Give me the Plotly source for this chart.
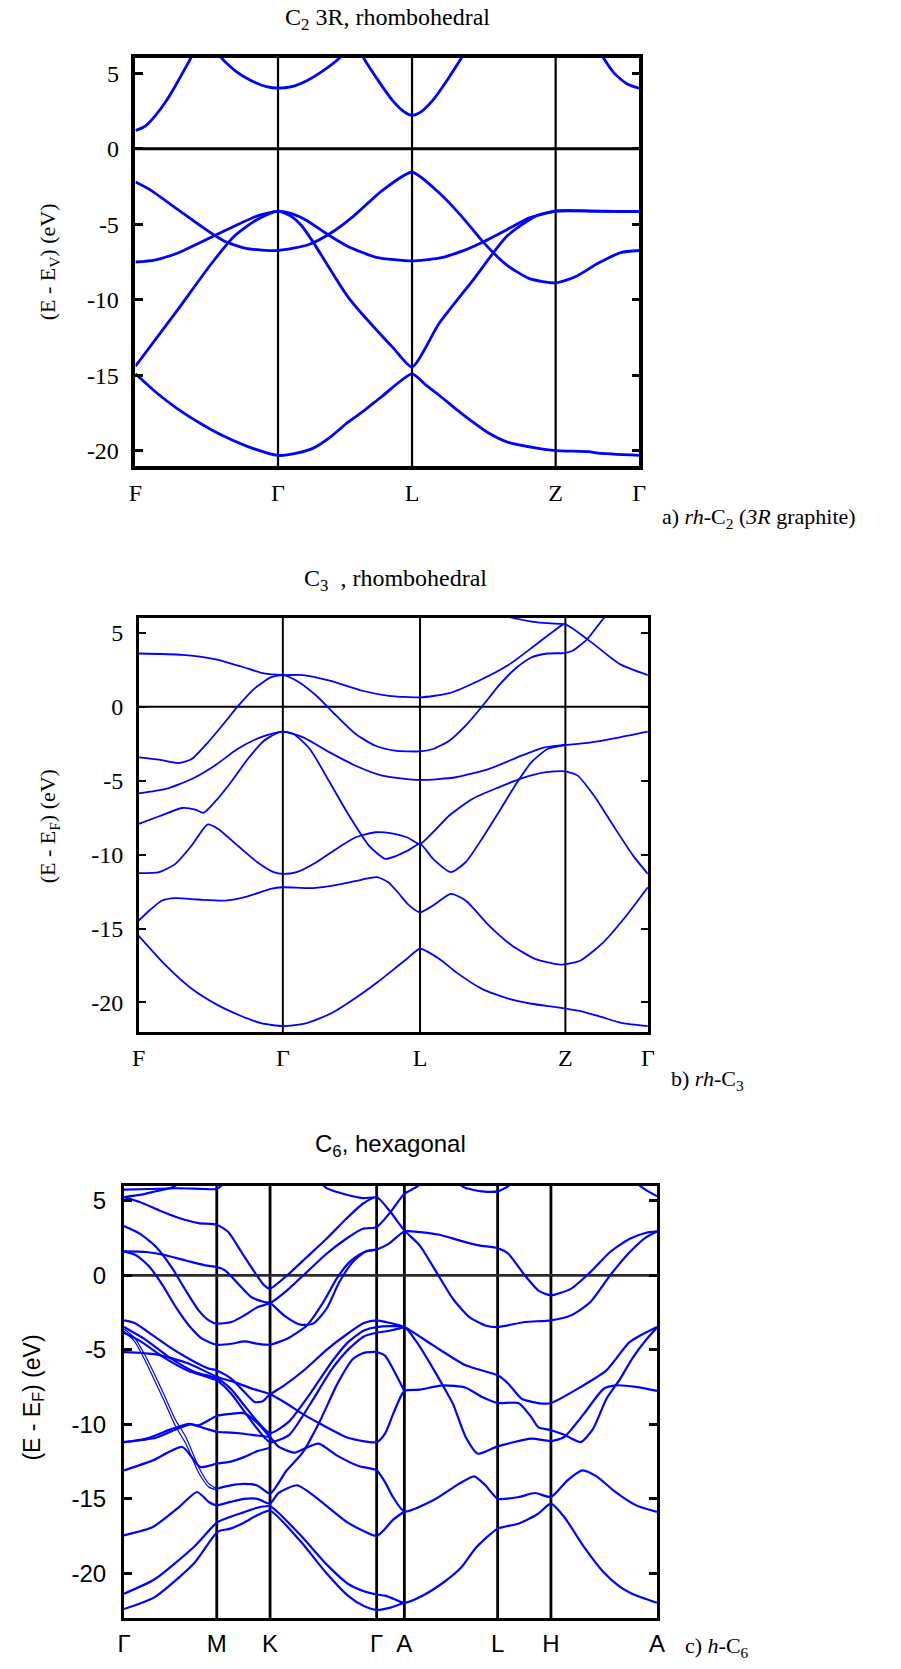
import plotly.graph_objects as go

# ---------------- DATA ----------------
# (a) rh-C2 : k-path fraction, energy (eV)
C2_KPOS = [0.0, 0.283, 0.549, 0.834, 1.0]
C2_KLAB = ['F', 'Γ', 'L', 'Z', 'Γ']
C2_YTICKS = [5, 0, -5, -10, -15, -20]
C2_BANDS = [
    [(0, 1.2), (0.02, 1.5), (0.04, 2.2), (0.06, 3.1), (0.08, 4.2), (0.1, 5.4), (0.12, 6.6)],
    [(0.155, 7.0), (0.171, 6.0), (0.2, 5.1), (0.23, 4.5), (0.26, 4.1), (0.283, 4.0), (0.31, 4.1), (0.34, 4.5),
     (0.37, 5.1), (0.405, 6.0), (0.42, 6.6)],
    [(0.44, 6.8), (0.453, 6.0), (0.48, 4.6), (0.51, 3.2), (0.535, 2.4), (0.549, 2.2), (0.565, 2.4), (0.59, 3.2),
     (0.62, 4.6), (0.647, 6.0), (0.66, 6.7)],
    [(0.915, 6.8), (0.929, 6.0), (0.95, 5.0), (0.975, 4.3), (1.0, 4.0)],
    [(0, -2.2), (0.027, -2.68), (0.083, -4.0), (0.129, -5.1), (0.174, -6.07), (0.219, -6.6), (0.283, -6.74),
     (0.343, -6.36), (0.388, -5.58), (0.433, -4.46), (0.489, -2.79), (0.549, -1.56), (0.602, -2.9), (0.647, -4.46),
     (0.692, -6.25), (0.737, -7.7), (0.782, -8.6), (0.834, -8.88), (0.873, -8.48), (0.918, -7.59), (0.963, -6.88), (1.0, -6.74)],
    [(0, -7.5), (0.038, -7.37), (0.083, -6.92), (0.14, -6.03), (0.196, -5.13), (0.241, -4.46), (0.283, -4.13),
     (0.31, -4.3), (0.34, -4.75), (0.377, -5.58), (0.422, -6.47), (0.478, -7.19), (0.549, -7.43), (0.602, -7.25),
     (0.647, -6.8), (0.692, -6.14), (0.737, -5.36), (0.782, -4.58), (0.834, -4.13), (0.906, -4.13), (1.0, -4.17)],
    [(0, -14.4), (0.083, -10.7), (0.151, -7.6), (0.196, -5.8), (0.241, -4.7), (0.283, -4.13), (0.31, -4.5),
     (0.33, -5.1), (0.354, -6.25), (0.422, -9.82), (0.512, -13.2), (0.549, -14.45), (0.602, -11.6), (0.67, -8.7),
     (0.737, -5.8), (0.794, -4.47), (0.834, -4.13), (0.906, -4.13), (1.0, -4.17)],
    [(0, -14.9), (0.04, -16.1), (0.083, -17.2), (0.13, -18.2), (0.174, -19.0), (0.23, -19.8), (0.283, -20.3),
     (0.32, -20.15), (0.354, -19.8), (0.39, -19.0), (0.422, -18.1), (0.455, -17.3), (0.489, -16.4), (0.549, -14.9),
     (0.575, -15.6), (0.602, -16.3), (0.635, -17.2), (0.67, -18.1), (0.7, -18.8), (0.737, -19.4), (0.794, -19.8),
     (0.834, -19.98), (0.9, -20.05), (0.918, -20.15), (1.0, -20.3)],
]

# (b) rh-C3
C3_KPOS = [0.0, 0.283, 0.5525, 0.838, 1.0]
C3_KLAB = ['F', 'Γ', 'L', 'Z', 'Γ']
C3_YTICKS = [5, 0, -5, -10, -15, -20]
C3_BANDS = [
    [(0, 3.6), (0.085, 3.51), (0.149, 3.22), (0.201, 2.72), (0.246, 2.25), (0.283, 2.14), (0.323, 2.14), (0.375, 1.76),
     (0.439, 1.08), (0.491, 0.74), (0.5525, 0.63), (0.61, 0.92), (0.668, 1.76), (0.726, 2.82), (0.777, 4.12),
     (0.816, 5.14), (0.836, 5.59), (0.881, 4.57), (0.945, 2.88), (1.0, 2.14)],
    [(0, -3.42), (0.04, -3.58), (0.078, -3.81), (0.104, -3.54), (0.136, -2.41), (0.169, -1.06), (0.194, 0.0),
     (0.226, 1.19), (0.259, 1.98), (0.283, 2.14), (0.31, 1.76), (0.349, 0.74), (0.388, -0.61), (0.426, -1.85),
     (0.465, -2.64), (0.503, -2.97), (0.5525, -3.02), (0.578, -2.86), (0.61, -2.3), (0.642, -1.28), (0.674, 0.0),
     (0.707, 1.42), (0.739, 2.55), (0.771, 3.33), (0.803, 3.6), (0.836, 3.63), (0.852, 3.78), (0.881, 4.57),
     (0.913, 5.97), (0.93, 6.5)],
    [(0.70, 6.3), (0.739, 5.97), (0.784, 5.7), (0.836, 5.59)],
    [(0, -5.86), (0.053, -5.56), (0.104, -4.89), (0.149, -3.99), (0.194, -2.86), (0.239, -2.07), (0.283, -1.69),
     (0.323, -2.07), (0.375, -3.09), (0.426, -3.99), (0.478, -4.66), (0.5525, -4.95), (0.623, -4.77), (0.688, -4.21),
     (0.752, -3.31), (0.797, -2.75), (0.836, -2.59), (0.881, -2.45), (0.945, -2.07), (1.0, -1.69)],
    [(0, -7.93), (0.04, -7.41), (0.085, -6.85), (0.111, -6.96), (0.127, -7.18), (0.149, -6.46), (0.181, -5.11),
     (0.214, -3.54), (0.246, -2.3), (0.272, -1.78), (0.283, -1.69), (0.304, -1.85), (0.336, -2.86), (0.375, -5.11),
     (0.413, -7.36), (0.452, -9.39), (0.484, -10.29), (0.505, -10.1), (0.53, -9.7), (0.5525, -9.28), (0.578, -10.29),
     (0.613, -11.19), (0.642, -10.52), (0.674, -8.94), (0.707, -7.14), (0.739, -5.34), (0.771, -3.76), (0.803, -2.86),
     (0.836, -2.59)],
    [(0, -11.26), (0.04, -11.19), (0.072, -10.63), (0.104, -9.39), (0.135, -7.97), (0.156, -8.27), (0.194, -9.39),
     (0.233, -10.52), (0.265, -11.19), (0.283, -11.31), (0.31, -11.19), (0.349, -10.52), (0.388, -9.62),
     (0.426, -8.83), (0.465, -8.49), (0.497, -8.56), (0.527, -8.83), (0.5525, -9.28), (0.578, -8.49), (0.61, -7.36),
     (0.655, -6.24), (0.707, -5.45), (0.752, -4.84), (0.797, -4.44), (0.836, -4.37), (0.862, -4.66), (0.894, -6.01),
     (0.932, -8.04), (0.971, -10.07), (1.0, -11.31)],
    [(0, -14.46), (0.021, -13.78), (0.046, -13.11), (0.072, -12.95), (0.117, -13.04), (0.169, -13.11),
     (0.214, -12.82), (0.259, -12.32), (0.283, -12.21), (0.342, -12.27), (0.4, -11.98), (0.439, -11.69),
     (0.468, -11.53), (0.49, -11.87), (0.51, -12.6), (0.53, -13.4), (0.5525, -13.9), (0.578, -13.45), (0.613, -12.66),
     (0.642, -13.11), (0.688, -14.8), (0.733, -16.15), (0.778, -17.05), (0.816, -17.39), (0.836, -17.43),
     (0.868, -17.16), (0.913, -15.92), (0.958, -14.12), (1.0, -12.21)],
    [(0, -15.5), (0.053, -17.5), (0.104, -19.08), (0.156, -20.2), (0.2, -20.9), (0.24, -21.4), (0.283, -21.6),
     (0.33, -21.4), (0.38, -20.7), (0.43, -19.6), (0.47, -18.6), (0.494, -17.95), (0.525, -17.1), (0.5525, -16.37),
     (0.59, -17.05), (0.623, -17.95), (0.674, -19.08), (0.726, -19.75), (0.771, -20.09), (0.816, -20.3),
     (0.836, -20.4), (0.87, -20.6), (0.91, -21.0), (0.95, -21.4), (1.0, -21.6)],
]

# (c) h-C6
C6_KPOS = [0.0, 0.174, 0.274, 0.474, 0.526, 0.701, 0.801, 1.0]
C6_KLAB = ['Γ', 'M', 'K', 'Γ', 'A', 'L', 'H', 'A']
C6_YTICKS = [5, 0, -5, -10, -15, -20]
C6_BANDS = [
    [(0, 5.75), (0.05, 5.8), (0.1, 5.85), (0.15, 5.8), (0.174, 5.8), (0.185, 6.1)],
    [(0, 5.26), (0.03, 5.4), (0.06, 5.65), (0.09, 5.9), (0.1, 6.1)],
    [(0.37, 6.2), (0.38, 5.86), (0.411, 5.48), (0.448, 5.19), (0.474, 5.26)],
    [(0.63, 6.1), (0.641, 5.86), (0.672, 5.64), (0.701, 5.64), (0.715, 5.86), (0.725, 6.1)],
    [(0.965, 6.1), (0.974, 5.86), (0.986, 5.59), (1.0, 5.32)],
    [(0, 5.26), (0.0295, 4.92), (0.0664, 4.36), (0.1033, 3.85), (0.14, 3.51), (0.174, 3.4), (0.1956, 2.91),
     (0.2202, 1.57), (0.245, 0.22), (0.2632, -0.67), (0.274, -0.89), (0.306, 0.0), (0.343, 1.23), (0.38, 2.46),
     (0.417, 3.8), (0.448, 4.81), (0.474, 5.26), (0.5, 4.25), (0.526, 3.02), (0.555, 2.0), (0.586, 0.22),
     (0.617, -1.57), (0.648, -2.8), (0.678, -3.36), (0.701, -3.47), (0.752, -3.13), (0.801, -3.02), (0.839, -2.68),
     (0.875, -1.79), (0.912, 0.0), (0.949, 1.57), (0.98, 2.57), (1.0, 2.95)],
    [(0, 3.31), (0.0295, 2.8), (0.0603, 1.9), (0.091, 0.45), (0.1156, -1.0), (0.14, -2.35), (0.159, -3.02),
     (0.174, -3.24), (0.2017, -3.13), (0.226, -2.68), (0.251, -2.13), (0.274, -1.86), (0.306, -1.0), (0.343, 0.22),
     (0.38, 1.45), (0.417, 2.46), (0.448, 3.13), (0.474, 3.24), (0.5, 4.25), (0.526, 5.48), (0.545, 5.86), (0.56, 6.2)],
    [(0, 1.61), (0.0418, 1.57), (0.0726, 1.39), (0.1156, 1.0), (0.1525, 0.67), (0.174, 0.56), (0.1894, 0.34),
     (0.214, -0.56), (0.2386, -1.45), (0.2632, -1.79), (0.274, -1.86), (0.3, -2.68), (0.331, -3.31), (0.355, -3.24),
     (0.38, -2.24), (0.404, -0.45), (0.429, 0.89), (0.453, 1.61), (0.474, 1.74), (0.497, 2.13), (0.526, 2.95),
     (0.555, 2.91), (0.592, 2.73), (0.629, 2.35), (0.666, 2.01), (0.701, 1.83), (0.721, 1.45), (0.752, 0.0),
     (0.777, -1.0), (0.801, -1.34), (0.839, -0.89), (0.875, 0.22), (0.912, 1.57), (0.949, 2.46), (0.98, 2.86), (1.0, 2.95)],
    [(0, 1.61), (0.0234, 1.34), (0.048, 0.56), (0.0726, -0.67), (0.0972, -2.13), (0.1218, -3.36), (0.1464, -4.25),
     (0.174, -4.65), (0.2017, -4.59), (0.226, -4.43), (0.251, -4.59), (0.274, -4.65), (0.306, -4.25), (0.343, -3.36),
     (0.374, -1.79), (0.399, -0.22), (0.423, 0.89), (0.448, 1.52), (0.474, 1.74)],
    [(0, -3.02), (0.02, -3.2), (0.054, -4.03), (0.085, -4.8), (0.116, -5.48), (0.14, -5.95), (0.159, -6.26),
     (0.174, -6.38), (0.2, -6.9), (0.225, -7.8), (0.245, -8.5), (0.26, -8.45), (0.274, -7.98), (0.30, -7.4),
     (0.34, -6.3), (0.38, -5.0), (0.42, -3.9), (0.45, -3.2), (0.474, -3.02), (0.5, -3.2), (0.526, -3.47),
     (0.58, -4.7), (0.641, -6.04), (0.701, -6.71), (0.721, -7.27), (0.746, -8.28), (0.777, -8.57), (0.801, -8.57),
     (0.857, -7.49), (0.905, -6.38), (0.949, -4.47), (1.0, -3.47)],
    [(0, -3.47), (0.042, -4.36), (0.085, -5.5), (0.134, -6.5), (0.174, -6.9), (0.2, -7.6), (0.225, -8.7),
     (0.25, -9.8), (0.274, -10.6), (0.31, -9.8), (0.35, -7.9), (0.39, -5.8), (0.42, -4.5), (0.45, -3.7),
     (0.474, -3.47), (0.526, -3.47), (0.549, -4.47), (0.58, -6.26), (0.598, -7.38), (0.617, -8.61), (0.641, -10.85),
     (0.664, -11.97), (0.701, -11.48), (0.764, -10.96), (0.801, -11.12), (0.826, -10.85), (0.863, -9.28),
     (0.9, -7.61), (0.924, -7.38), (0.961, -7.49), (1.0, -7.76)],
    [(0, -3.85), (0.03, -4.4), (0.07, -5.4), (0.12, -6.4), (0.174, -7.05), (0.2, -7.9), (0.225, -9.1),
     (0.25, -10.3), (0.274, -11.2), (0.31, -10.7), (0.35, -8.6), (0.39, -6.3), (0.42, -5.0), (0.45, -4.1),
     (0.474, -3.85), (0.5, -3.7), (0.526, -3.47)],
    [(0, -5.15), (0.06, -5.3), (0.12, -5.9), (0.174, -6.8), (0.21, -7.2), (0.24, -7.6), (0.274, -7.98),
     (0.305, -8.6), (0.335, -9.3), (0.37, -10.0), (0.42, -10.9), (0.474, -11.19), (0.49, -10.6), (0.505, -9.3),
     (0.526, -7.76), (0.555, -7.67), (0.598, -7.38), (0.641, -7.54), (0.672, -8.17), (0.701, -8.57), (0.74, -8.57),
     (0.764, -9.51), (0.777, -10.18), (0.801, -10.4), (0.826, -10.7), (0.857, -11.19), (0.88, -10.3),
     (0.905, -8.3), (0.93, -7.0), (0.955, -5.5), (0.98, -4.3), (1.0, -3.5)],
    [(0.174, -14.32), (0.2, -14.1), (0.225, -14.0), (0.25, -14.1), (0.274, -14.65),
     (0.305, -13.1), (0.335, -11.9), (0.37, -9.6), (0.40, -7.3), (0.43, -5.6), (0.45, -5.2), (0.474, -5.15),
     (0.49, -5.4), (0.505, -6.3), (0.526, -7.76)],
    [(0, -11.2), (0.0418, -10.96), (0.091, -10.29), (0.122, -9.96), (0.14, -10.07), (0.174, -9.44), (0.2, -9.3),
     (0.225, -9.25), (0.25, -9.9), (0.274, -10.85), (0.29, -11.5), (0.32, -11.9), (0.34, -11.6), (0.365, -11.3),
     (0.40, -12.1), (0.44, -12.8), (0.474, -13.09), (0.49, -13.9), (0.505, -14.9), (0.526, -15.85), (0.58, -15.1),
     (0.629, -13.98), (0.657, -13.49), (0.678, -14.09), (0.701, -14.99), (0.74, -14.88), (0.771, -14.61),
     (0.801, -14.88), (0.832, -13.76), (0.86, -13.09), (0.888, -13.53), (0.918, -14.43), (0.961, -15.44), (1.0, -15.88)],
    [(0, -11.2), (0.06, -10.9), (0.1, -10.3), (0.125, -10.0), (0.15, -10.25), (0.174, -10.5), (0.2, -10.55),
     (0.225, -10.63), (0.25, -10.75), (0.274, -10.85)],
    [(0, -13.09), (0.0541, -12.42), (0.1094, -11.52), (0.143, -12.86), (0.174, -12.64), (0.2, -12.5),
     (0.225, -12.2), (0.25, -11.8), (0.274, -11.57)],
    [(0, -17.45), (0.0541, -16.89), (0.1033, -15.55), (0.137, -14.54), (0.159, -15.21), (0.174, -15.43),
     (0.2, -15.2), (0.225, -15.0), (0.25, -15.0), (0.274, -15.32), (0.29, -14.6), (0.325, -14.09), (0.36, -14.9),
     (0.42, -16.6), (0.474, -17.49), (0.49, -17.0), (0.505, -16.4), (0.526, -15.85)],
    [(0, -21.37), (0.0576, -20.4), (0.132, -18.2), (0.174, -16.6), (0.2, -16.2), (0.225, -15.9), (0.25, -15.6),
     (0.274, -15.5), (0.33, -17.4), (0.38, -19.4), (0.42, -20.7), (0.45, -21.2), (0.474, -21.42), (0.49, -21.5),
     (0.505, -21.7), (0.526, -21.98), (0.56, -21.5), (0.6, -20.6), (0.633, -19.6), (0.66, -18.3), (0.701, -17.0),
     (0.74, -16.67), (0.777, -16.0), (0.801, -15.32), (0.826, -16.22), (0.863, -18.23), (0.899, -19.9),
     (0.93, -20.9), (0.953, -21.37), (1.0, -21.98)],
    [(0, -22.4), (0.0576, -21.6), (0.132, -19.3), (0.176, -17.2), (0.2, -17.0), (0.225, -16.6), (0.25, -16.1),
     (0.274, -15.8), (0.33, -17.8), (0.38, -20.0), (0.42, -21.5), (0.45, -22.2), (0.474, -22.46), (0.5, -22.3),
     (0.526, -21.98)],
]
# thin double line (Γ -> M) of h-C6
C6_THIN_BANDS = [
    [(0, -3.6), (0.02, -4.2), (0.04, -5.4), (0.054, -6.4), (0.075, -8.0), (0.097, -9.73), (0.116, -10.85),
     (0.14, -12.86), (0.159, -13.98), (0.174, -14.32)],
    [(0, -3.75), (0.02, -4.45), (0.04, -5.75), (0.054, -6.8), (0.075, -8.4), (0.097, -10.15), (0.116, -11.3),
     (0.14, -13.25), (0.159, -14.2), (0.174, -14.4)],
]

# ---------------- LAYOUT ----------------
W, H = 901, 1669
SERIF = "Liberation Serif, Times New Roman, serif"
SANS = "Liberation Sans, Arial, sans-serif"
BLUE = "#0000ff"


def px_x(p):
    return p / W


def px_y(p):
    return 1 - p / H


panels = [
    dict(bands=C2_BANDS, thin=[], kpos=C2_KPOS, klab=C2_KLAB, yt=C2_YTICKS, yr=[-21, 6],
         box=(130.6, 643, 58, 466), font=SERIF, tfs=24, lw=2.8, frame=3.5, vlw=2.2, zlw=3, zc="black",
         ticklen=8, tickw=3, ystand=8, xstand=2),
    dict(bands=C3_BANDS, thin=[], kpos=C3_KPOS, klab=C3_KLAB, yt=C3_YTICKS, yr=[-22, 6],
         box=(134, 651.7, 618, 1032), font=SERIF, tfs=24, lw=1.8, frame=2.5, vlw=2, zlw=2, zc="black",
         ticklen=7, tickw=2, ystand=8, xstand=2),
    dict(bands=C6_BANDS, thin=C6_THIN_BANDS, kpos=C6_KPOS, klab=C6_KLAB, yt=C6_YTICKS, yr=[-23, 6],
         box=(119, 661, 1186, 1618), font=SANS, tfs=24, lw=2.2, frame=3, vlw=2.8, zlw=2.8, zc="#2a2a2a",
         ticklen=8, tickw=3, ystand=10, xstand=2),
]

fig = go.Figure()
shapes = []
layout_axes = {}
for i, p in enumerate(panels, start=1):
    xa = "x" if i == 1 else f"x{i}"
    ya = "y" if i == 1 else f"y{i}"
    for band, width in [(b, p["lw"]) for b in p["bands"]] + [(b, 1.2) for b in p["thin"]]:
        fig.add_trace(go.Scatter(
            x=[b[0] for b in band], y=[b[1] for b in band], mode="lines",
            line=dict(color=BLUE, width=width, shape="spline", smoothing=0.6),
            xaxis=xa, yaxis=ya, showlegend=False, hoverinfo="skip"))
    x0, x1, y0, y1 = p["box"]
    layout_axes["xaxis" if i == 1 else f"xaxis{i}"] = dict(
        domain=[px_x(x0), px_x(x1)], range=[0, 1], anchor=ya,
        tickmode="array", tickvals=p["kpos"], ticktext=p["klab"], ticks="",
        showline=True, mirror=True, linecolor="black", linewidth=p["frame"],
        showgrid=False, zeroline=False, fixedrange=True,
        tickfont=dict(family=p["font"], size=p["tfs"], color="black"),
        ticklabelstandoff=p["xstand"])
    layout_axes["yaxis" if i == 1 else f"yaxis{i}"] = dict(
        domain=[px_y(y1), px_y(y0)], range=p["yr"], anchor=xa,
        tickmode="array", tickvals=p["yt"], ticktext=[str(v) for v in p["yt"]],
        ticks="inside", ticklen=p["ticklen"], tickwidth=p["tickw"], tickcolor="black",
        showline=True, mirror="ticks", linecolor="black", linewidth=p["frame"],
        showgrid=False, zeroline=False, fixedrange=True,
        tickfont=dict(family=p["font"], size=p["tfs"], color="black"),
        ticklabelstandoff=p["ystand"])
    for kx in p["kpos"][1:-1]:
        shapes.append(dict(type="line", xref=xa, yref=f"{ya} domain", x0=kx, x1=kx, y0=0, y1=1,
                           line=dict(color="black", width=p["vlw"]), layer="below"))
    shapes.append(dict(type="line", xref=f"{xa} domain", yref=ya, x0=0, x1=1, y0=0, y1=0,
                       line=dict(color=p["zc"], width=p["zlw"]), layer="below"))

annotations = [
    # panel a
    dict(text="C<sub>2</sub> 3R, rhombohedral", x=px_x(387), y=px_y(19), font=dict(family=SERIF, size=24)),
    dict(text="(E - E<sub>V</sub>) (eV)", x=px_x(43), y=px_y(262), textangle=-90, font=dict(family=SERIF, size=22)),
    dict(text="a) <i>rh</i>-C<sub>2</sub> (<i>3R</i> graphite)", x=px_x(664), y=px_y(518), xanchor="left",
         font=dict(family=SERIF, size=22)),
    # panel b
    dict(text="C<sub>3</sub>\u00a0\u00a0, rhombohedral", x=px_x(395), y=px_y(580), font=dict(family=SERIF, size=24)),
    dict(text="(E - E<sub>F</sub>) (eV)", x=px_x(43), y=px_y(826), textangle=-90, font=dict(family=SERIF, size=22)),
    dict(text="b) <i>rh</i>-C<sub>3</sub>", x=px_x(673), y=px_y(1080), xanchor="left",
         font=dict(family=SERIF, size=22)),
    # panel c
    dict(text="C<sub>6</sub>, hexagonal", x=px_x(390), y=px_y(1145), font=dict(family=SANS, size=24)),
    dict(text="(E - E<sub>F</sub>) (eV)", x=px_x(26), y=px_y(1398), textangle=-90, font=dict(family=SANS, size=23)),
    dict(text="c) <i>h</i>-C<sub>6</sub>", x=px_x(687), y=px_y(1647), xanchor="left",
         font=dict(family=SERIF, size=22)),
]
for a in annotations:
    a.setdefault("xanchor", "center")
    a.update(xref="paper", yref="paper", yanchor="middle", showarrow=False)
    a["font"]["color"] = "black"

fig.update_layout(
    width=W, height=H, margin=dict(l=0, r=0, t=0, b=0),
    paper_bgcolor="white", plot_bgcolor="white", showlegend=False,
    shapes=shapes, annotations=annotations, **layout_axes)

fig.write_html("out.html", config={"displayModeBar": False},
               post_script="document.body.style.margin='0px';document.body.style.padding='0px';")
